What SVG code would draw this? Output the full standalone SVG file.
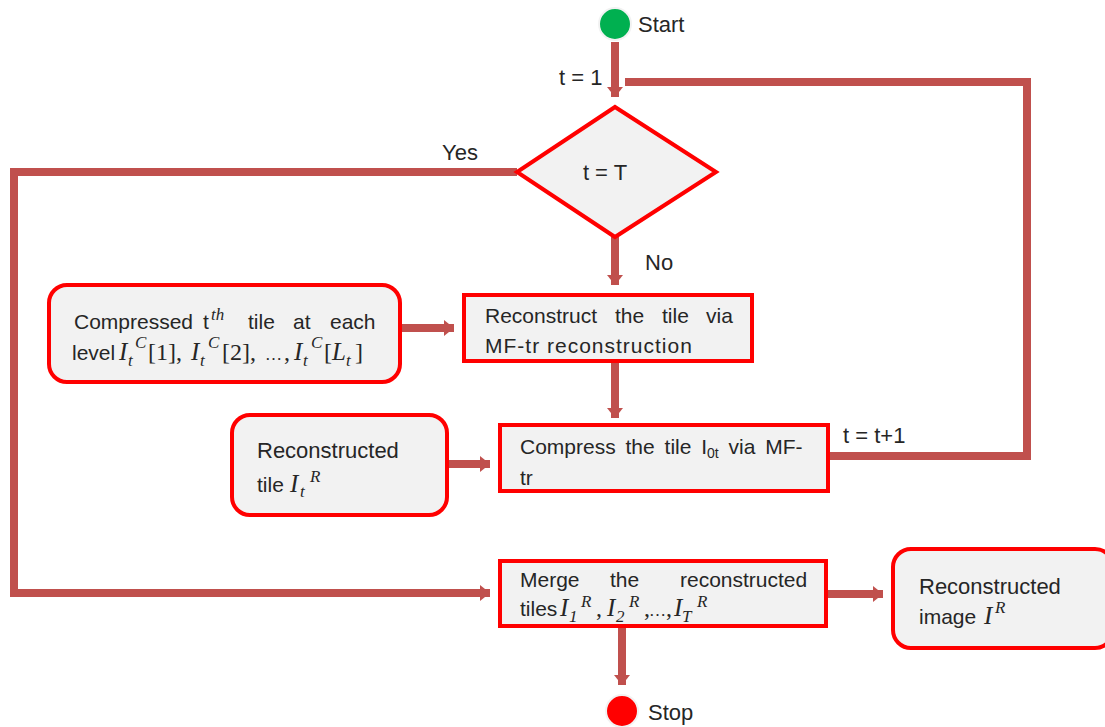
<svg xmlns="http://www.w3.org/2000/svg" width="1105" height="727" viewBox="0 0 1105 727">
<style>
.t{font-family:"Liberation Sans",Arial,sans-serif;font-size:22px;fill:#262626}
.b{font-size:21px}
.m{font-family:"Liberation Serif","Times New Roman",serif;font-style:italic;font-size:25px}
.s{font-family:"Liberation Serif","Times New Roman",serif;font-style:italic;font-size:17px}
.u{font-family:"Liberation Serif","Times New Roman",serif;font-style:normal;font-size:24px}
.e{font-family:"Liberation Serif","Times New Roman",serif;font-style:normal;font-size:17px}
.box{fill:#F2F2F2;stroke:#FF0000;stroke-width:4}
.c{fill:none;stroke:#C0504D;stroke-width:8}
</style>
<defs>
<marker id="ah" markerUnits="userSpaceOnUse" markerWidth="18" markerHeight="18" refX="10" refY="9" orient="auto">
<path d="M0,1 L10,9 L0,17 Z" fill="#C0504D"/>
</marker>
</defs>
<g id="connectors">
<path class="c" d="M615,42 V97" marker-end="url(#ah)"/>
<path class="c" d="M625,82 H1027 V456 H828"/>
<path class="c" d="M517,172 H14 V593 H490" marker-end="url(#ah)"/>
<path class="c" d="M615,237 V285" marker-end="url(#ah)"/>
<path class="c" d="M400,328 H454" marker-end="url(#ah)"/>
<path class="c" d="M615,361 V418" marker-end="url(#ah)"/>
<path class="c" d="M447,464 H490" marker-end="url(#ah)"/>
<path class="c" d="M826,594 H883" marker-end="url(#ah)"/>
<path class="c" d="M622,626 V685" marker-end="url(#ah)"/>
<text class="t" x="559" y="85">t = 1</text>
<text class="t" x="442" y="160">Yes</text>
<text class="t" x="645" y="270">No</text>
<text class="t" x="843" y="443">t = t+1</text>
</g>
<g id="start">
<circle cx="615" cy="24" r="16" fill="#00B050" stroke="#F2F2F2" stroke-width="2"/>
<text class="t" x="638" y="32">Start</text>
</g>
<g id="decision">
<polygon class="box" points="615,107 716,172 615,237 517,172"/>
<text class="t" x="605" y="180" text-anchor="middle">t = T</text>
</g>
<g id="compressed">
<rect class="box" x="49" y="285" width="351" height="97" rx="18"/>
<text class="t b" y="329"><tspan x="74">Compressed</tspan><tspan x="203">t</tspan><tspan class="s" x="211" y="320">th</tspan><tspan x="248" y="329">tile</tspan><tspan x="293">at</tspan><tspan x="330">each</tspan></text>
<text class="t b" y="360"><tspan x="72">level</tspan><tspan class="m" x="119">I</tspan><tspan class="s" x="128" y="366">t</tspan><tspan class="s" x="135" y="348">C</tspan><tspan class="u" x="148" y="360">[1],</tspan><tspan class="m" x="191">I</tspan><tspan class="s" x="200" y="366">t</tspan><tspan class="s" x="208" y="348">C</tspan><tspan class="u" x="222" y="360">[2],</tspan><tspan class="e" x="265">…</tspan><tspan class="u" x="284">,</tspan><tspan class="m" x="294">I</tspan><tspan class="s" x="303" y="366">t</tspan><tspan class="s" x="311" y="348">C</tspan><tspan class="u" x="324" y="360">[</tspan><tspan class="m" x="332">L</tspan><tspan class="s" x="346" y="366">t</tspan><tspan class="u" x="355" y="360">]</tspan></text>
</g>
<g id="reconstruct">
<rect class="box" x="464" y="295" width="288" height="66"/>
<text class="t b" y="323"><tspan x="485">Reconstruct</tspan><tspan x="615">the</tspan><tspan x="662">tile</tspan><tspan x="706">via</tspan></text>
<text class="t b" x="485" y="353" letter-spacing="1">MF-tr reconstruction</text>
</g>
<g id="recon-tile">
<rect class="box" x="232" y="415" width="215" height="100" rx="18"/>
<text class="t" x="257" y="458">Reconstructed</text>
<text class="t b" y="492"><tspan x="257">tile</tspan><tspan class="m" x="290">I</tspan><tspan class="s" x="300" y="497">t</tspan><tspan class="s" x="310" y="482">R</tspan></text>
</g>
<g id="compress">
<rect class="box" x="500" y="425" width="328" height="66"/>
<text class="t b" x="520" y="454" word-spacing="4">Compress the tile I<tspan font-size="14" dy="4">0t</tspan><tspan dy="-4"> via MF-</tspan></text>
<text class="t b" x="520" y="485">tr</text>
</g>
<g id="merge">
<rect class="box" x="500" y="561" width="326" height="65"/>
<text class="t b" y="587"><tspan x="520">Merge</tspan><tspan x="610">the</tspan><tspan x="680">reconstructed</tspan></text>
<text class="t b" y="616"><tspan x="520">tiles</tspan><tspan class="m" x="560">I</tspan><tspan class="s" x="569" y="622">1</tspan><tspan class="s" x="581" y="607">R</tspan><tspan class="u" x="596" y="616">,</tspan><tspan class="m" x="607">I</tspan><tspan class="s" x="616" y="622">2</tspan><tspan class="s" x="629" y="607">R</tspan><tspan class="u" x="644" y="616">,</tspan><tspan class="e" x="649">…</tspan><tspan class="u" x="666">,</tspan><tspan class="m" x="674">I</tspan><tspan class="s" x="682" y="622">T</tspan><tspan class="s" x="697" y="607">R</tspan></text>
</g>
<g id="recon-image">
<rect class="box" x="893" y="549" width="220" height="99" rx="18"/>
<text class="t" x="919" y="594">Reconstructed</text>
<text class="t b" y="624"><tspan x="919">image</tspan><tspan class="m" x="984">I</tspan><tspan class="s" x="995" y="613">R</tspan></text>
</g>
<g id="stop">
<circle cx="622" cy="711" r="16" fill="#FF0000" stroke="#F2F2F2" stroke-width="2"/>
<text class="t" x="648" y="720">Stop</text>
</g>
</svg>
